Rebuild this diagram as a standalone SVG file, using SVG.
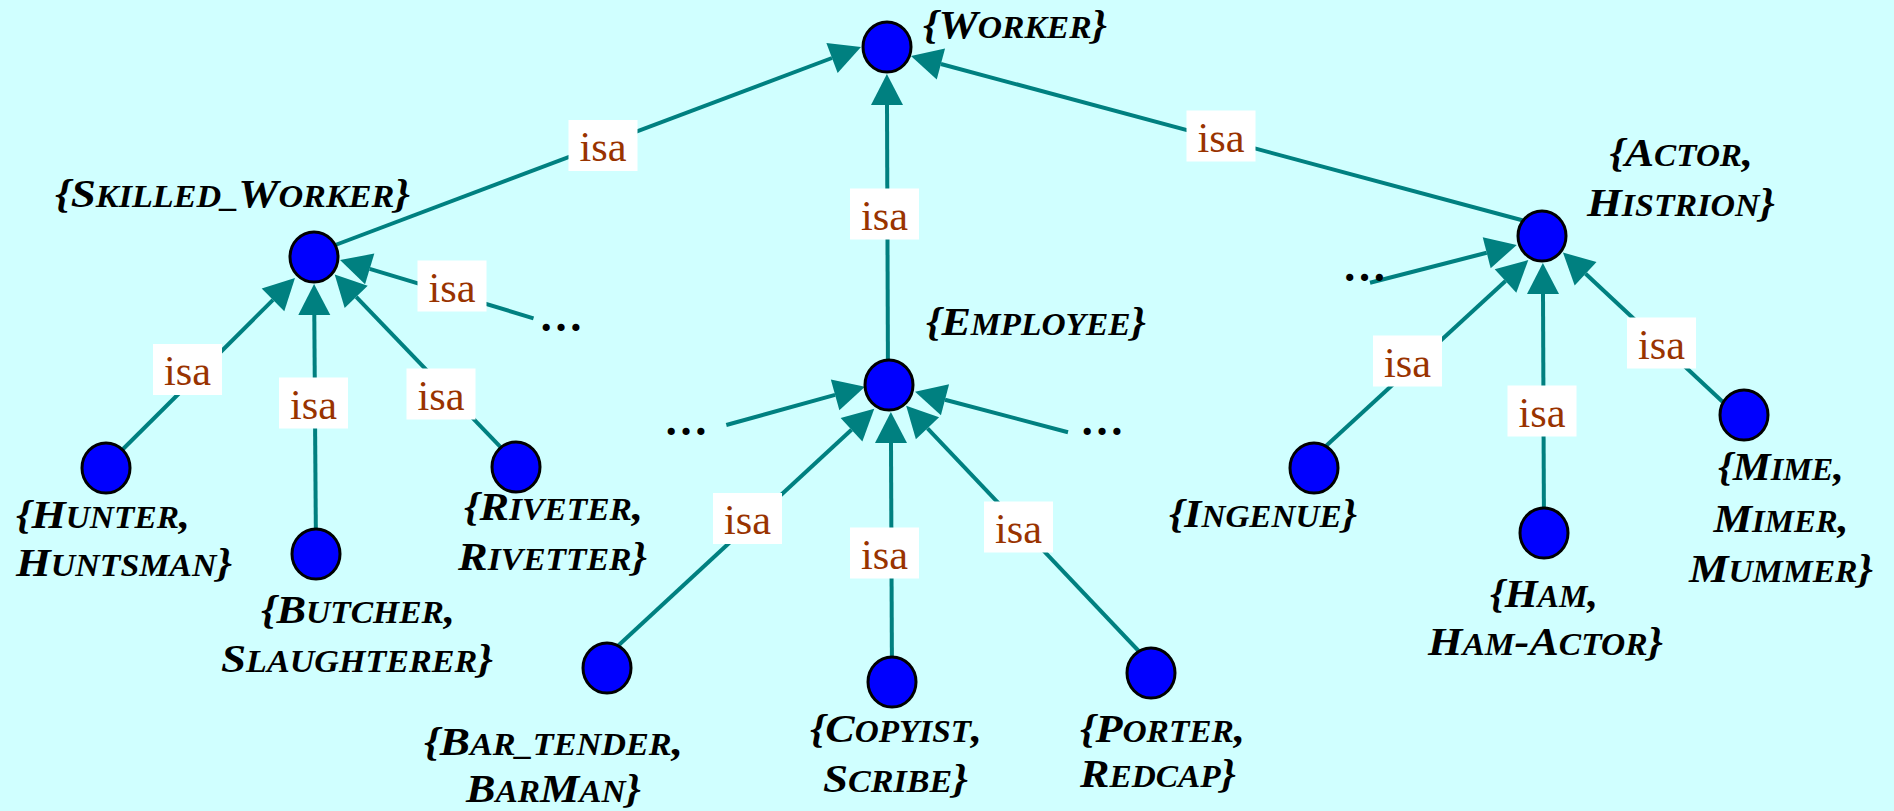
<svg xmlns="http://www.w3.org/2000/svg" width="1894" height="811" viewBox="0 0 1894 811">
<style>
.lbl{font-family:'Liberation Serif','Times New Roman',serif;font-weight:bold;font-style:italic;font-size:41px;fill:#000}
.sc{font-size:31px}
.isa{font-family:'Liberation Serif','Times New Roman',serif;font-size:42px;fill:#993300;text-anchor:middle}
.box{fill:#fff}
.edge{stroke:#008080;stroke-width:4;fill:none;marker-end:url(#arr)}
.node{fill:#0000ff;stroke:#000;stroke-width:3}
.dots{font-family:'Liberation Serif','Times New Roman',serif;font-weight:bold;font-size:44px;text-anchor:middle;fill:#000}
</style>
<defs>
<marker id="arr" markerUnits="userSpaceOnUse" markerWidth="32" markerHeight="34" viewBox="0 -17 32 34" refX="0" refY="0" orient="auto" overflow="visible"><path d="M0,-16 L31,0 L0,16 z" fill="#008080"/></marker>
</defs>
<rect width="1894" height="811" fill="#d0ffff"/>
<g id="connectors">
<g id="e-skilled-worker"><line class="edge" x1="330" y1="247" x2="832" y2="58"/><rect class="box" x="568.5" y="120" width="69" height="51"/><text class="isa" x="603" y="161" textLength="47" lengthAdjust="spacingAndGlyphs">isa</text></g>
<g id="e-employee-worker"><line class="edge" x1="888" y1="385" x2="887" y2="105"/><rect class="box" x="850" y="188.5" width="69" height="51"/><text class="isa" x="884.5" y="229.5" textLength="47" lengthAdjust="spacingAndGlyphs">isa</text></g>
<g id="e-actor-worker"><line class="edge" x1="1525" y1="221" x2="940.9" y2="64"/><rect class="box" x="1186.5" y="110.5" width="69" height="51"/><text class="isa" x="1221" y="151.5" textLength="47" lengthAdjust="spacingAndGlyphs">isa</text></g>
<g id="e-hunter-skilled"><line class="edge" x1="106" y1="466" x2="273" y2="299.9"/><rect class="box" x="153" y="344" width="69" height="51"/><text class="isa" x="187.5" y="385" textLength="47" lengthAdjust="spacingAndGlyphs">isa</text></g>
<g id="e-butcher-skilled"><line class="edge" x1="316" y1="554" x2="314.3" y2="315"/><rect class="box" x="279" y="377.5" width="69" height="51"/><text class="isa" x="313.5" y="418.5" textLength="47" lengthAdjust="spacingAndGlyphs">isa</text></g>
<g id="e-riveter-skilled"><line class="edge" x1="516" y1="463" x2="356.2" y2="296.9"/><rect class="box" x="406.5" y="368.5" width="69" height="51"/><text class="isa" x="441" y="409.5" textLength="47" lengthAdjust="spacingAndGlyphs">isa</text></g>
<g id="e-more-skilled"><line class="edge" x1="533.5" y1="318.3" x2="369.7" y2="268.9"/><rect class="box" x="417.5" y="260.5" width="69" height="51"/><text class="isa" x="452" y="301.5" textLength="47" lengthAdjust="spacingAndGlyphs">isa</text><text class="dots" x="561" y="331">…</text></g>
<g id="e-bar-employee"><line class="edge" x1="607" y1="656" x2="851.5" y2="429.7"/><rect class="box" x="713" y="493" width="69" height="51"/><text class="isa" x="747.5" y="534" textLength="47" lengthAdjust="spacingAndGlyphs">isa</text></g>
<g id="e-copyist-employee"><line class="edge" x1="892" y1="682" x2="891" y2="443"/><rect class="box" x="850" y="527.5" width="69" height="51"/><text class="isa" x="884.5" y="568.5" textLength="47" lengthAdjust="spacingAndGlyphs">isa</text></g>
<g id="e-porter-employee"><line class="edge" x1="1151" y1="664" x2="927.5" y2="428.3"/><rect class="box" x="984" y="501.5" width="69" height="51"/><text class="isa" x="1018.5" y="542.5" textLength="47" lengthAdjust="spacingAndGlyphs">isa</text></g>
<g id="e-moreL-employee"><line class="edge" x1="726.3" y1="425" x2="835.1" y2="394.9"/><text class="dots" x="686" y="435">…</text></g>
<g id="e-moreR-employee"><line class="edge" x1="1068" y1="432.3" x2="945" y2="399.7"/><text class="dots" x="1102" y="435">…</text></g>
<g id="e-ingenue-actor"><line class="edge" x1="1314" y1="457" x2="1505.5" y2="281"/><rect class="box" x="1373" y="335.5" width="69" height="51"/><text class="isa" x="1407.5" y="376.5" textLength="47" lengthAdjust="spacingAndGlyphs">isa</text></g>
<g id="e-ham-actor"><line class="edge" x1="1544" y1="533" x2="1543" y2="294"/><rect class="box" x="1507.5" y="385.5" width="69" height="51"/><text class="isa" x="1542" y="426.5" textLength="47" lengthAdjust="spacingAndGlyphs">isa</text></g>
<g id="e-mime-actor"><line class="edge" x1="1740" y1="418" x2="1585.6" y2="273.7"/><rect class="box" x="1627" y="317.5" width="69" height="51"/><text class="isa" x="1661.5" y="358.5" textLength="47" lengthAdjust="spacingAndGlyphs">isa</text></g>
<g id="e-more-actor"><line class="edge" x1="1370" y1="282.7" x2="1486.7" y2="252.7"/><text class="dots" x="1364.5" y="281">…</text></g>
</g>
<g id="worker"><ellipse class="node" cx="887" cy="47" rx="24" ry="25"/><text class="lbl" x="923" y="38" textLength="184" lengthAdjust="spacingAndGlyphs">{W<tspan class="sc">ORKER</tspan>}</text></g>
<g id="skilled_worker"><ellipse class="node" cx="314" cy="257" rx="24" ry="25"/><text class="lbl" x="55" y="207" textLength="355" lengthAdjust="spacingAndGlyphs">{S<tspan class="sc">KILLED_</tspan>W<tspan class="sc">ORKER</tspan>}</text></g>
<g id="employee"><ellipse class="node" cx="889" cy="385" rx="24" ry="25"/><text class="lbl" x="926" y="335" textLength="220" lengthAdjust="spacingAndGlyphs">{E<tspan class="sc">MPLOYEE</tspan>}</text></g>
<g id="actor"><ellipse class="node" cx="1542" cy="236" rx="24" ry="25"/><text class="lbl" x="1609.5" y="166" textLength="143.5" lengthAdjust="spacingAndGlyphs">{A<tspan class="sc">CTOR</tspan>,</text><text class="lbl" x="1587" y="216" textLength="188" lengthAdjust="spacingAndGlyphs">H<tspan class="sc">ISTRION</tspan>}</text></g>
<g id="hunter"><ellipse class="node" cx="106" cy="468" rx="24" ry="25"/><text class="lbl" x="16" y="528" textLength="174" lengthAdjust="spacingAndGlyphs">{H<tspan class="sc">UNTER</tspan>,</text><text class="lbl" x="16" y="576" textLength="216" lengthAdjust="spacingAndGlyphs">H<tspan class="sc">UNTSMAN</tspan>}</text></g>
<g id="butcher"><ellipse class="node" cx="316" cy="554" rx="24" ry="25"/><text class="lbl" x="261" y="623" textLength="194" lengthAdjust="spacingAndGlyphs">{B<tspan class="sc">UTCHER</tspan>,</text><text class="lbl" x="221" y="672" textLength="272" lengthAdjust="spacingAndGlyphs">S<tspan class="sc">LAUGHTERER</tspan>}</text></g>
<g id="riveter"><ellipse class="node" cx="516" cy="467" rx="24" ry="25"/><text class="lbl" x="464" y="520" textLength="179" lengthAdjust="spacingAndGlyphs">{R<tspan class="sc">IVETER</tspan>,</text><text class="lbl" x="458" y="570" textLength="189" lengthAdjust="spacingAndGlyphs">R<tspan class="sc">IVETTER</tspan>}</text></g>
<g id="bar_tender"><ellipse class="node" cx="607" cy="668" rx="24" ry="25"/><text class="lbl" x="424" y="755" textLength="259" lengthAdjust="spacingAndGlyphs">{B<tspan class="sc">AR_TENDER</tspan>,</text><text class="lbl" x="466" y="802" textLength="175" lengthAdjust="spacingAndGlyphs">B<tspan class="sc">AR</tspan>M<tspan class="sc">AN</tspan>}</text></g>
<g id="copyist"><ellipse class="node" cx="892" cy="682" rx="24" ry="25"/><text class="lbl" x="810" y="742" textLength="172" lengthAdjust="spacingAndGlyphs">{C<tspan class="sc">OPYIST</tspan>,</text><text class="lbl" x="823" y="792" textLength="145" lengthAdjust="spacingAndGlyphs">S<tspan class="sc">CRIBE</tspan>}</text></g>
<g id="porter"><ellipse class="node" cx="1151" cy="673" rx="24" ry="25"/><text class="lbl" x="1080" y="742" textLength="165" lengthAdjust="spacingAndGlyphs">{P<tspan class="sc">ORTER</tspan>,</text><text class="lbl" x="1080" y="787" textLength="156" lengthAdjust="spacingAndGlyphs">R<tspan class="sc">EDCAP</tspan>}</text></g>
<g id="ingenue"><ellipse class="node" cx="1314" cy="468" rx="24" ry="25"/><text class="lbl" x="1169" y="527" textLength="188" lengthAdjust="spacingAndGlyphs">{I<tspan class="sc">NGENUE</tspan>}</text></g>
<g id="ham"><ellipse class="node" cx="1544" cy="533" rx="24" ry="25"/><text class="lbl" x="1490" y="607" textLength="108" lengthAdjust="spacingAndGlyphs">{H<tspan class="sc">AM</tspan>,</text><text class="lbl" x="1428" y="655" textLength="235" lengthAdjust="spacingAndGlyphs">H<tspan class="sc">AM</tspan>-A<tspan class="sc">CTOR</tspan>}</text></g>
<g id="mime"><ellipse class="node" cx="1744" cy="415" rx="24" ry="25"/><text class="lbl" x="1718" y="480" textLength="126" lengthAdjust="spacingAndGlyphs">{M<tspan class="sc">IME</tspan>,</text><text class="lbl" x="1713.5" y="532" textLength="135" lengthAdjust="spacingAndGlyphs">M<tspan class="sc">IMER</tspan>,</text><text class="lbl" x="1689" y="582" textLength="184" lengthAdjust="spacingAndGlyphs">M<tspan class="sc">UMMER</tspan>}</text></g>
</svg>
